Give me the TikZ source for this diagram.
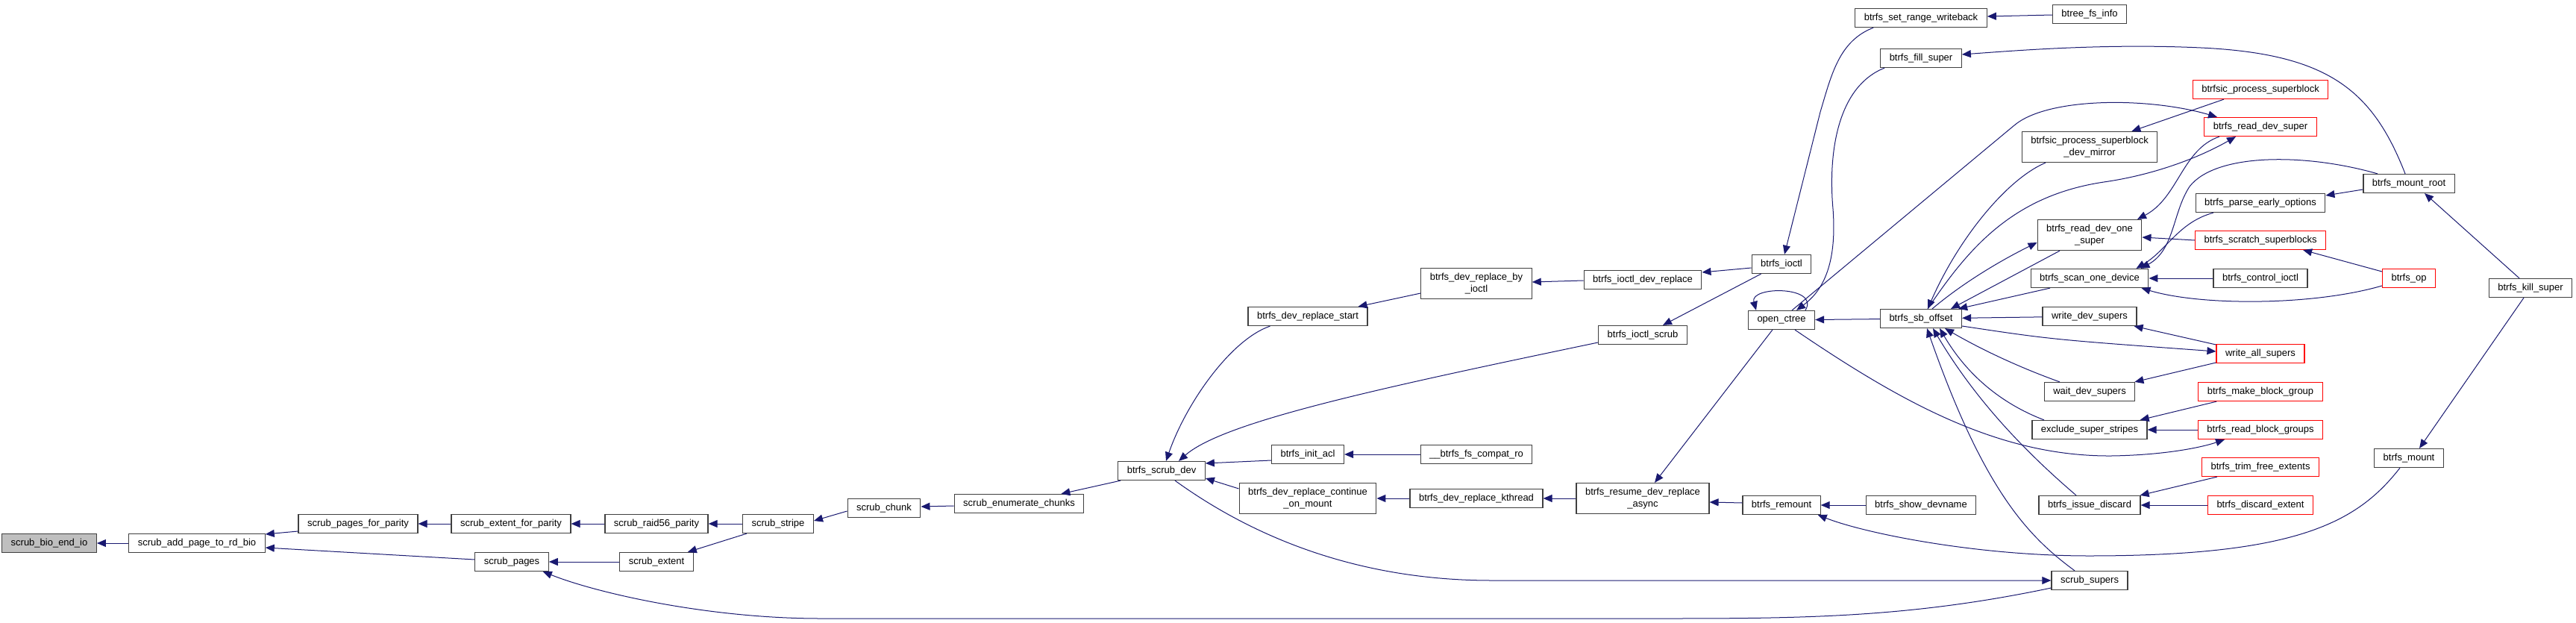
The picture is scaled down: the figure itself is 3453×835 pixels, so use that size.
\documentclass[tikz,border=0pt]{standalone}
\usepackage{fontspec}
\setmainfont{Liberation Sans}
\usepackage{xcolor}
\usepackage{tikz}
\usetikzlibrary{arrows.meta}
\definecolor{edgeblue}{HTML}{191970}
\definecolor{boxline}{HTML}{404040}
\definecolor{rootgray}{HTML}{BFBFBF}
\definecolor{truncred}{HTML}{FF0000}
\tikzset{
  fn/.style={draw=boxline,line width=1.2pt,fill=white,inner xsep=12pt,inner ysep=0pt,minimum height=25pt,align=center,font=\fontsize{13}{15.5}\selectfont},
  fntwo/.style={fn,minimum height=41pt},
  trunc/.style={fn,draw=truncred},
  rootfn/.style={fn,fill=rootgray},
  call/.style={draw=edgeblue,line width=1pt,-{Triangle[length=12pt,width=10pt]}}
}

\begin{document}
\begin{tikzpicture}[x=1pt,y=-1pt]
\useasboundingbox (0,0) rectangle (3453,835);
% functions, one column per rank
\node[rootfn] (bio) at (66,728) {scrub\_bio\_end\_io};
\node[fn] (addpg) at (264,728) {scrub\_add\_page\_to\_rd\_bio};
\node[fn] (pfp) at (480,702) {scrub\_pages\_for\_parity};
\node[fn] (pages) at (686,753) {scrub\_pages};
\node[fn] (efp) at (685,702) {scrub\_extent\_for\_parity};
\node[fn] (raid) at (880,702) {scrub\_raid56\_parity};
\node[fn] (extent) at (880,753) {scrub\_extent};
\node[fn] (stripe) at (1043,702) {scrub\_stripe};
\node[fn] (chunk) at (1185,681) {scrub\_chunk};
\node[fn] (enumc) at (1366,675) {scrub\_enumerate\_chunks};
\node[fn] (scrubdev) at (1557,631) {btrfs\_scrub\_dev};
\node[fn] (drstart) at (1753,424) {btrfs\_dev\_replace\_start};
\node[fn] (initacl) at (1753,609) {btrfs\_init\_acl};
\node[fntwo] (drcont) at (1753,668) {btrfs\_dev\_replace\_continue\\\_on\_mount};
\node[fntwo] (drbyio) at (1979,380) {btrfs\_dev\_replace\_by\\\_ioctl};
\node[fn] (compat) at (1979,609) {\_\_btrfs\_fs\_compat\_ro};
\node[fn] (kthread) at (1979,668) {btrfs\_dev\_replace\_kthread};
\node[fn] (ioctldr) at (2202,375) {btrfs\_ioctl\_dev\_replace};
\node[fn] (ioctlscrub) at (2202,449) {btrfs\_ioctl\_scrub};
\node[fntwo] (resume) at (2202,668) {btrfs\_resume\_dev\_replace\\\_async};
\node[fn] (ioctl) at (2388,354) {btrfs\_ioctl};
\node[fn] (octree) at (2388,429) {open\_ctree};
\node[fn] (remount) at (2388,677) {btrfs\_remount};
\node[fn] (setrw) at (2575,24) {btrfs\_set\_range\_writeback};
\node[fn] (fill) at (2575,78) {btrfs\_fill\_super};
\node[fn] (sboff) at (2575,427) {btrfs\_sb\_offset};
\node[fn] (showdev) at (2575,677) {btrfs\_show\_devname};
\node[fn] (btreefs) at (2801,19) {btree\_fs\_info};
\node[fntwo] (devmirror) at (2801,197) {btrfsic\_process\_superblock\\\_dev\_mirror};
\node[fntwo] (readone) at (2801,315) {btrfs\_read\_dev\_one\\\_super};
\node[fn] (scanone) at (2801,373) {btrfs\_scan\_one\_device};
\node[fn] (writedev) at (2801,424) {write\_dev\_supers};
\node[fn] (waitdev) at (2801,525) {wait\_dev\_supers};
\node[fn] (exclude) at (2801,576) {exclude\_super\_stripes};
\node[fn] (issue) at (2801,677) {btrfs\_issue\_discard};
\node[fn] (supers) at (2801,778) {scrub\_supers};
\node[trunc] (procsb) at (3030,120) {btrfsic\_process\_superblock};
\node[trunc] (readsuper) at (3030,170) {btrfs\_read\_dev\_super};
\node[fn] (parse) at (3030,272) {btrfs\_parse\_early\_options};
\node[trunc] (scratch) at (3030,322) {btrfs\_scratch\_superblocks};
\node[fn] (control) at (3030,373) {btrfs\_control\_ioctl};
\node[trunc] (writeall) at (3030,474) {write\_all\_supers};
\node[trunc] (makebg) at (3030,525) {btrfs\_make\_block\_group};
\node[trunc] (readbg) at (3030,576) {btrfs\_read\_block\_groups};
\node[trunc] (trim) at (3030,626) {btrfs\_trim\_free\_extents};
\node[trunc] (discard) at (3030,677) {btrfs\_discard\_extent};
\node[fn] (mountroot) at (3229,246) {btrfs\_mount\_root};
\node[trunc] (op) at (3229,373) {btrfs\_op};
\node[fn] (mount) at (3229,614) {btrfs\_mount};
\node[fn] (kill) at (3392,386) {btrfs\_kill\_super};
% calls, arrow at the callee
\draw[call] (addpg) -- (bio);
\draw[call] ([yshift=-10pt]pfp.west) -- ([yshift=12pt]addpg.east);
\draw[call] ([yshift=3pt]pages.west) -- ([yshift=-6pt]addpg.east);
\draw[call] (efp) -- (pfp); \draw[call] (raid) -- (efp); \draw[call] (stripe) -- (raid);
\draw[call] (extent) -- (pages);
\draw[call] ([xshift=6pt]stripe.south west) -- ([xshift=-8pt]extent.north east);
\draw[call] ([yshift=-10pt]supers.west) .. controls (2550,830) and (2400,829) .. (2200,829) -- (1100,829) .. controls (950,829) and (800,795) .. ([xshift=-8pt]pages.south east);
\draw[call] ([yshift=-4pt]chunk.west) -- ([yshift=4pt]stripe.east);
\draw[call] ([yshift=-3pt]enumc.west) -- ([yshift=2pt]chunk.east);
\draw[call] ([xshift=4pt]scrubdev.south west) -- ([xshift=-31pt]enumc.north east);
\draw[call] ([xshift=30pt]drstart.south west) .. controls (1650,455) and (1590,540) .. ([xshift=6pt]scrubdev.north);
\draw[call] ([yshift=-10pt]ioctlscrub.west) .. controls (1850,520) and (1640,565) .. ([xshift=23pt]scrubdev.north);
\draw[call] ([yshift=-8pt]initacl.west) -- ([yshift=10pt]scrubdev.east);
\draw[call] ([yshift=13pt]drcont.west) -- ([yshift=-10pt]scrubdev.east);
\draw[call] ([xshift=18pt]scrubdev.south) .. controls (1680,720) and (1820,778) .. (2000,778) -- (supers.west);
\draw[call] ([yshift=-13pt]drbyio.west) -- ([xshift=-13pt]drstart.north east);
\draw[call] ([yshift=-1pt]ioctldr.west) -- ([yshift=2pt]drbyio.east);
\draw[call] ([yshift=-5pt]ioctl.west) -- ([yshift=10pt]ioctldr.east);
\draw[call] ([xshift=13pt]ioctl.south west) -- ([xshift=-33pt]ioctlscrub.north east);
\draw[call] (compat) -- (initacl); \draw[call] (kthread) -- (drcont); \draw[call] (resume) -- (kthread);
\draw[call] ([xshift=33pt]octree.south west) -- ([xshift=16pt]resume.north);
\draw[call] ([yshift=3pt]remount.west) -- ([yshift=-5pt]resume.east);
\draw[call] ([xshift=25pt]setrw.south west) .. controls (2465,55) and (2455,100) .. (2440,150) -- ([xshift=4pt]ioctl.north);
\draw[call] ([yshift=-1pt]btreefs.west) -- ([yshift=2pt]setrw.east);
\draw[call] ([xshift=6pt]fill.south west) .. controls (2465,115) and (2450,200) .. (2457,280) .. controls (2463,360) and (2440,392) .. ([xshift=20pt]octree.north);
\draw[call] ([xshift=-5pt]mountroot.north) .. controls (3180,120) and (3120,72) .. (2950,64) .. controls (2820,58) and (2700,68) .. ([yshift=5pt]fill.east);
\draw[call] ([xshift=32pt]octree.north) .. controls (2440,383) and (2345,383) .. ([xshift=-34pt]octree.north);
\draw[call] (sboff) -- (octree);
\draw[call] ([xshift=14pt]octree.north) -- (2700,168) .. controls (2745,130) and (2880,130) .. ([xshift=-58pt]readsuper.north);
\draw[call] ([xshift=9pt]sboff.north) .. controls (2640,330) and (2700,262) .. (2820,244) .. controls (2890,234) and (2950,210) .. ([xshift=-33pt]readsuper.south);
\draw[call] ([xshift=-55pt]readsuper.south) .. controls (2925,200) and (2920,265) .. ([xshift=64pt]readone.north);
\draw[call] ([xshift=15pt]sboff.north) .. controls (2630,380) and (2680,350) .. ([yshift=-10pt]readone.west);
\draw[call] ([xshift=-40pt]readone.south) -- ([xshift=40pt]sboff.north);
\draw[call] ([xshift=-59pt]devmirror.south) .. controls (2690,240) and (2625,320) .. ([xshift=9pt]sboff.north);
\draw[call] ([xshift=-53pt]scanone.south) -- ([xshift=-5pt]sboff.north east);
\draw[call] (writedev) -- (sboff);
\draw[call] ([yshift=-10pt]sboff.east) .. controls (2750,455) .. ([yshift=3pt]writeall.west);
\draw[call] ([xshift=-40pt]waitdev.north) .. controls (2700,490) and (2650,465) .. ([xshift=32pt]sboff.south);
\draw[call] ([xshift=-61pt]exclude.north) .. controls (2680,540) and (2635,500) .. ([xshift=25pt]sboff.south);
\draw[call] ([xshift=-18pt]issue.north) .. controls (2720,610) and (2650,540) .. ([xshift=16pt]sboff.south);
\draw[call] ([xshift=-20pt]supers.north) .. controls (2720,720) and (2660,660) .. ([xshift=8pt]sboff.south);
\draw[call] ([yshift=12pt]writeall.west) -- ([xshift=-4pt]writedev.south east);
\draw[call] ([yshift=-12pt]writeall.west) -- ([xshift=-1pt]waitdev.north east);
\draw[call] ([xshift=25pt]makebg.south west) -- ([xshift=-10pt]exclude.north east);
\draw[call] (readbg) -- (exclude);
\draw[call] ([xshift=18pt]octree.south) .. controls (2550,540) and (2680,612) .. (2830,611) .. controls (2900,610) and (2950,600) .. ([xshift=-48pt]readbg.south);
\draw[call] ([xshift=21pt]trim.south west) -- ([xshift=-1pt]issue.north east);
\draw[call] (discard) -- (issue);
\draw[call] ([xshift=-12pt]mount.south) .. controls (3160,700) and (3080,745) .. (2800,745) .. controls (2650,745) and (2500,715) .. ([xshift=-4pt]remount.south east);
\draw[call] (showdev) -- (remount);
\draw[call] ([xshift=-15pt]kill.north) -- ([xshift=21pt]mountroot.south);
\draw[call] ([xshift=-9pt]kill.south) -- ([xshift=14pt]mount.north);
\draw[call] ([yshift=-8pt]mountroot.west) -- ([yshift=10pt]parse.east);
\draw[call] ([xshift=-42pt]mountroot.north) .. controls (3090,205) and (2970,205) .. (2935,250) .. controls (2912,285) and (2915,335) .. ([xshift=-11pt]scanone.north east);
\draw[call] ([xshift=-63pt]parse.south) .. controls (2920,298) and (2905,335) .. ([xshift=-17pt]scanone.north east);
\draw[call] (control) -- (scanone);
\draw[call] ([yshift=-10pt]op.west) .. controls (3100,410) and (2950,410) .. ([xshift=-10pt]scanone.south east);
\draw[call] ([yshift=9pt]op.west) -- ([xshift=-31pt]scratch.south east);
\draw[call] (scratch.west) -- ([yshift=-3pt]readone.east);
\draw[call] ([xshift=-49pt]procsb.south) -- ([xshift=-35pt]devmirror.north east);
\end{tikzpicture}
\end{document}
